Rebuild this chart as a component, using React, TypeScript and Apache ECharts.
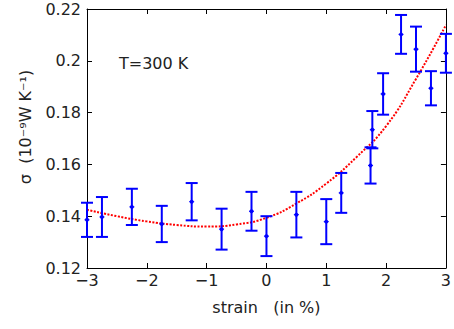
import React, { useEffect, useRef } from "react";
import * as echarts from "echarts";

const strain = [-3, -2.75, -2.25, -1.75, -1.25, -0.75, -0.25, 0, 0.5, 1, 1.25, 1.74, 1.77, 1.95, 2.25, 2.5, 2.75, 3];
const sigma = [0.1386, 0.1397, 0.1436, 0.137, 0.1456, 0.135, 0.1419, 0.1323, 0.1406, 0.1379, 0.149, 0.1596, 0.1734, 0.1872, 0.2102, 0.2045, 0.1894, 0.2029];
const sigmaErr = [0.0066, 0.0077, 0.007, 0.007, 0.0072, 0.0079, 0.0075, 0.0077, 0.0088, 0.0087, 0.0077, 0.007, 0.0072, 0.008, 0.0075, 0.0087, 0.0066, 0.0075];

const fitStrain = [-3, -2.5, -2, -1.5, -1, -0.5, 0, 0.5, 1, 1.5, 2, 2.5, 3];
const fitSigma = [0.1425, 0.14, 0.138, 0.1366, 0.136, 0.1368, 0.1394, 0.1449, 0.1526, 0.1627, 0.1748, 0.193, 0.2138];

const FONT = "DejaVu Sans";

export default function App() {
  const ref = useRef<HTMLDivElement>(null);
  useEffect(() => {
    if (!ref.current) return;
    const chart = echarts.init(ref.current, undefined, { renderer: "svg" });
    const axisLine = { show: true, onZero: false, lineStyle: { color: "#000", width: 1 } };
    const tick = { show: true, inside: true, length: 5, lineStyle: { color: "#000" } };
    chart.setOption({
      animation: false,
      backgroundColor: "#fff",
      grid: { left: 87, right: 6, top: 9, bottom: 61 },
      xAxis: [
        {
          type: "value",
          min: -3,
          max: 3,
          interval: 1,
          axisLine,
          axisTick: tick,
          splitLine: { show: false },
          axisLabel: {
            fontFamily: FONT,
            fontSize: 16,
            lineHeight: 14,
            color: "#222",
            margin: 5,
            formatter: (v: number) => (v < 0 ? "\u2212" + Math.abs(v) : String(v)),
          },
          name: "strain   (in %)",
          nameLocation: "middle",
          nameGap: 31,
          nameTextStyle: { fontFamily: FONT, fontSize: 16, color: "#222" },
        },
        {
          type: "value",
          position: "top",
          min: -3,
          max: 3,
          interval: 1,
          axisLine,
          axisTick: tick,
          axisLabel: { show: false },
          splitLine: { show: false },
        },
      ],
      yAxis: [
        {
          type: "value",
          min: 0.12,
          max: 0.22,
          interval: 0.02,
          axisLine,
          axisTick: tick,
          splitLine: { show: false },
          axisLabel: {
            fontFamily: FONT,
            fontSize: 16,
            lineHeight: 14,
            color: "#222",
            margin: 6,
            formatter: (v: number) => String(Number(v.toFixed(2))),
          },
        },
        {
          type: "value",
          position: "right",
          min: 0.12,
          max: 0.22,
          interval: 0.02,
          axisLine,
          axisTick: tick,
          axisLabel: { show: false },
          splitLine: { show: false },
        },
      ],
      graphic: [
        {
          type: "text",
          x: 25,
          y: 127,
          rotation: Math.PI / 2,
          style: {
            text: "\u03c3  (10\u207b\u2079W K\u207b\u00b9)",
            font: `16px "${FONT}"`,
            fill: "#222",
            align: "center",
            verticalAlign: "middle",
          },
        },
        {
          type: "text",
          x: 119,
          y: 63,
          style: {
            text: "T=300 K",
            font: `16px "${FONT}"`,
            fill: "#222",
            align: "left",
            verticalAlign: "middle",
          },
        },
      ],
      series: [
        {
          type: "line",
          data: fitStrain.map((x, i) => [x, fitSigma[i]]),
          smooth: true,
          showSymbol: false,
          lineStyle: { color: "#ff0000", width: 2, type: [2, 1.5] },
          z: 3,
        },
        {
          type: "custom",
          clip: false,
          data: strain.map((x, i) => [x, sigma[i], sigmaErr[i]]),
          renderItem: (params: any, api: any) => {
            const x = api.value(0);
            const y = api.value(1);
            const e = api.value(2);
            const c = api.coord([x, y]);
            const top = api.coord([x, y + e]);
            const bot = api.coord([x, y - e]);
            const hw = 6;
            const style = { stroke: "#0000ff", lineWidth: 2 };
            return {
              type: "group",
              children: [
                { type: "line", shape: { x1: top[0], y1: top[1], x2: bot[0], y2: bot[1] }, style },
                { type: "line", shape: { x1: top[0] - hw, y1: top[1], x2: top[0] + hw, y2: top[1] }, style },
                { type: "line", shape: { x1: bot[0] - hw, y1: bot[1], x2: bot[0] + hw, y2: bot[1] }, style },
                { type: "circle", shape: { cx: c[0], cy: c[1], r: 2 }, style: { fill: "#0000ff" } },
                { type: "line", shape: { x1: c[0] - 2.5, y1: c[1], x2: c[0] + 2.5, y2: c[1] }, style: { stroke: "#0000ff", lineWidth: 1 } },
              ],
            };
          },
          z: 4,
        },
      ],
    });
    return () => chart.dispose();
  }, []);
  return <div ref={ref} style={{ width: 454, height: 329, position: "absolute", left: 0, top: 0 }} />;
}
